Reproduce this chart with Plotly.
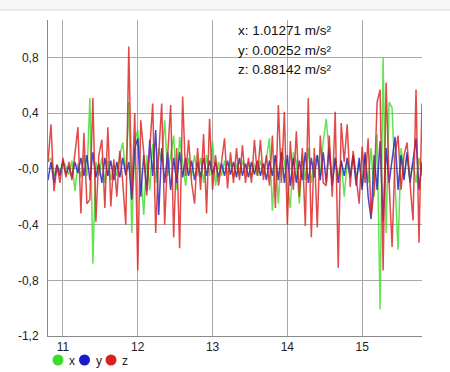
import plotly.graph_objects as go

t_start = 10.80
t_step = 0.04

acc_x = [0.05, 0.08, -0.05, 0.03, -0.02, 0.05, 0.02, -0.04, 0.06, -0.16,
         0.04, -0.06, 0.10, -0.05, 0.51, -0.68, 0.05, -0.05, 0.08, -0.10,
         0.06, -0.08, 0.03, -0.05, 0.10, 0.19, -0.05, 0.48, -0.46, 0.20,
         0.28, -0.05, -0.33, 0.10, -0.15, 0.18, -0.10, 0.15, 0.05, 0.35,
         -0.05, 0.10, 0.24, -0.15, 0.23, 0.05, -0.12, 0.08, -0.05, 0.10,
         -0.05, 0.08, -0.10, 0.10, -0.05, 0.20, -0.12, 0.05, -0.05, 0.06,
         -0.04, 0.05, -0.06, 0.04, -0.05, 0.06, -0.03, 0.05, -0.06, 0.04,
         -0.05, 0.06, -0.04, 0.08, 0.22, -0.30, 0.10, -0.25, 0.15, 0.05,
         -0.10, -0.28, 0.12, 0.05, -0.25, 0.10, -0.08, 0.15, -0.10, 0.05,
         0.10, -0.05, 0.20, 0.36, 0.10, -0.10, 0.08, -0.05, 0.05, -0.20,
         0.05, -0.05, 0.10, -0.08, 0.05, -0.12, 0.10, -0.10, 0.15, -0.20,
         0.25, -1.01, 0.80, -0.46, 0.48, 0.44, -0.10, -0.58, 0.15, -0.05,
         0.10, -0.08, 0.05, -0.10, 0.08, -0.05]

acc_y = [-0.08, 0.05, -0.10, 0.03, -0.05, 0.06, -0.04, 0.02, -0.06, 0.05,
         -0.03, 0.08, -0.05, 0.10, -0.08, 0.12, -0.06, 0.04, -0.10, 0.08,
         -0.05, 0.06, -0.08, 0.05, -0.06, 0.08, -0.04, 0.05, -0.22, 0.15,
         0.22, -0.20, 0.10, -0.16, 0.21, -0.05, 0.28, -0.33, 0.15, -0.10,
         0.12, -0.15, 0.08, -0.10, 0.12, -0.06, 0.08, -0.05, 0.06, -0.08,
         0.05, -0.06, 0.08, -0.05, 0.06, -0.04, 0.05, -0.06, 0.04, -0.05,
         0.06, -0.04, 0.05, -0.06, 0.08, -0.05, 0.04, -0.06, 0.05, -0.04,
         0.06, -0.05, 0.04, -0.08, 0.06, -0.05, 0.10, -0.08, 0.12, -0.10,
         0.10, -0.12, 0.08, -0.10, 0.06, -0.08, 0.12, -0.10, 0.08, -0.06,
         0.10, -0.08, 0.12, -0.10, 0.15, -0.12, 0.08, -0.10, 0.06, -0.05,
         0.08, -0.06, 0.10, -0.12, 0.08, -0.15, 0.12, -0.20, -0.36, 0.10,
         -0.15, 0.20, -0.38, 0.15, -0.10, 0.05, 0.23, -0.15, 0.10, -0.08,
         0.12, -0.10, 0.08, 0.22, -0.15, 0.05]

acc_z = [0.05, 0.32, -0.16, 0.02, -0.10, 0.08, -0.06, 0.05, -0.08, 0.10,
         0.30, -0.32, 0.26, -0.25, -0.22, 0.51, -0.38, 0.10, 0.21, -0.28,
         0.30, -0.27, 0.07, -0.20, 0.13, -0.10, -0.40, 0.88, -0.20, 0.40,
         -0.73, 0.35, 0.12, -0.19, 0.15, 0.47, -0.46, 0.10, 0.47, -0.40,
         0.10, 0.46, -0.49, 0.15, -0.57, 0.52, -0.05, 0.21, -0.10, -0.25,
         0.15, -0.15, 0.25, -0.32, 0.36, -0.15, 0.10, -0.12, 0.05, 0.22,
         -0.14, 0.12, -0.10, 0.15, -0.08, 0.17, -0.10, 0.08, -0.10, 0.21,
         -0.05, 0.21, -0.08, 0.10, -0.12, 0.24, -0.28, 0.46, -0.10, 0.41,
         -0.40, 0.20, -0.15, 0.27, -0.20, 0.15, -0.41, 0.51, -0.49, 0.15,
         -0.42, 0.24, -0.10, -0.12, 0.24, -0.20, 0.41, -0.71, 0.33, 0.05,
         0.32, -0.13, 0.13, -0.05, -0.25, 0.16, -0.10, 0.22, -0.34, -0.15,
         0.48, 0.57, -0.73, 0.62, -0.10, -0.56, 0.10, 0.24, -0.15, 0.10,
         0.19, -0.10, -0.37, 0.57, -0.53, 0.47]

y_tick_vals = [0.8, 0.4, 0.0, -0.4, -0.8, -1.2]
y_tick_text = ["0,8", "0,4", "-0,0", "-0,4", "-0,8", "-1,2"]
x_tick_vals = [11, 12, 13, 14, 15]
x_tick_text = ["11", "12", "13", "14", "15"]

readout = ["x: 1.01271 m/s²", "y: 0.00252 m/s²", "z: 0.88142 m/s²"]

series_names = ["x", "y", "z"]
series_colors = ["#3ddc2a", "#1a1ac8", "#dc1e1e"]

n = len(acc_z)
times = [round(t_start + t_step * i, 4) for i in range(n)]

fig = go.Figure()
for name, vals, col in zip(series_names, [acc_x, acc_y, acc_z], series_colors):
    fig.add_trace(go.Scatter(
        x=times[:len(vals)], y=vals, mode="lines", name=name,
        line=dict(color=col, width=1.5), opacity=0.8, showlegend=False,
        hoverinfo="skip"))

W, H = 450, 372
L, R, T, B = 48, 28, 20, 36
pw, ph = W - L - R, H - T - B

def px(xp):
    return (xp - L) / pw

def py(yp):
    return (H - B - yp) / ph

# readout text
for i, txt in enumerate(readout):
    fig.add_annotation(text=txt, xref="paper", yref="paper",
                       x=px(236), y=py(31 + 19.5 * i), xanchor="left",
                       yanchor="middle", showarrow=False,
                       font=dict(family="Liberation Sans, Arial", size=13.5, color="#111"))

# legend: circles + labels
leg_y = 360
for k, (name, col) in enumerate(zip(series_names, series_colors)):
    cx = 58 + 26.5 * k
    fig.add_shape(type="circle", xref="paper", yref="paper",
                  xsizemode="pixel", ysizemode="pixel",
                  xanchor=px(cx), yanchor=py(leg_y),
                  x0=-5.5, x1=5.5, y0=-5.5, y1=5.5,
                  fillcolor=col, line=dict(width=0))
    fig.add_annotation(text=name, xref="paper", yref="paper",
                       x=px(cx + 9), y=py(leg_y + 1), xanchor="left",
                       yanchor="middle", showarrow=False,
                       font=dict(family="Liberation Sans, Arial", size=12, color="#222"))

# top bar
fig.add_shape(type="rect", xref="paper", yref="paper",
              x0=px(0), x1=px(W), y0=py(10), y1=py(0),
              fillcolor="#f6f6f6", line=dict(width=0), layer="below")
fig.add_shape(type="line", xref="paper", yref="paper",
              x0=px(0), x1=px(W), y0=py(10), y1=py(10),
              line=dict(color="#d4d4d4", width=1))

fig.update_layout(
    width=W, height=H,
    margin=dict(l=L, r=R, t=T, b=B, pad=0),
    paper_bgcolor="white", plot_bgcolor="white",
    font=dict(family="Liberation Sans, Arial", size=12, color="#222"),
    showlegend=False,
    xaxis=dict(range=[10.8, 15.8], tickvals=x_tick_vals, ticktext=x_tick_text,
               showgrid=True, gridcolor="#a8a8a8", gridwidth=1,
               showline=True, linecolor="#8a8a8a", linewidth=1,
               zeroline=False, ticks="", tickfont=dict(size=12, color="#222")),
    yaxis=dict(range=[-1.2, 1.07], tickvals=y_tick_vals, ticktext=y_tick_text,
               showgrid=True, gridcolor="#a8a8a8", gridwidth=1,
               showline=True, linecolor="#8a8a8a", linewidth=1,
               zeroline=False, ticks="", ticklabelstandoff=6,
               tickfont=dict(size=12, color="#222")),
)

fig.write_html("out.html")
